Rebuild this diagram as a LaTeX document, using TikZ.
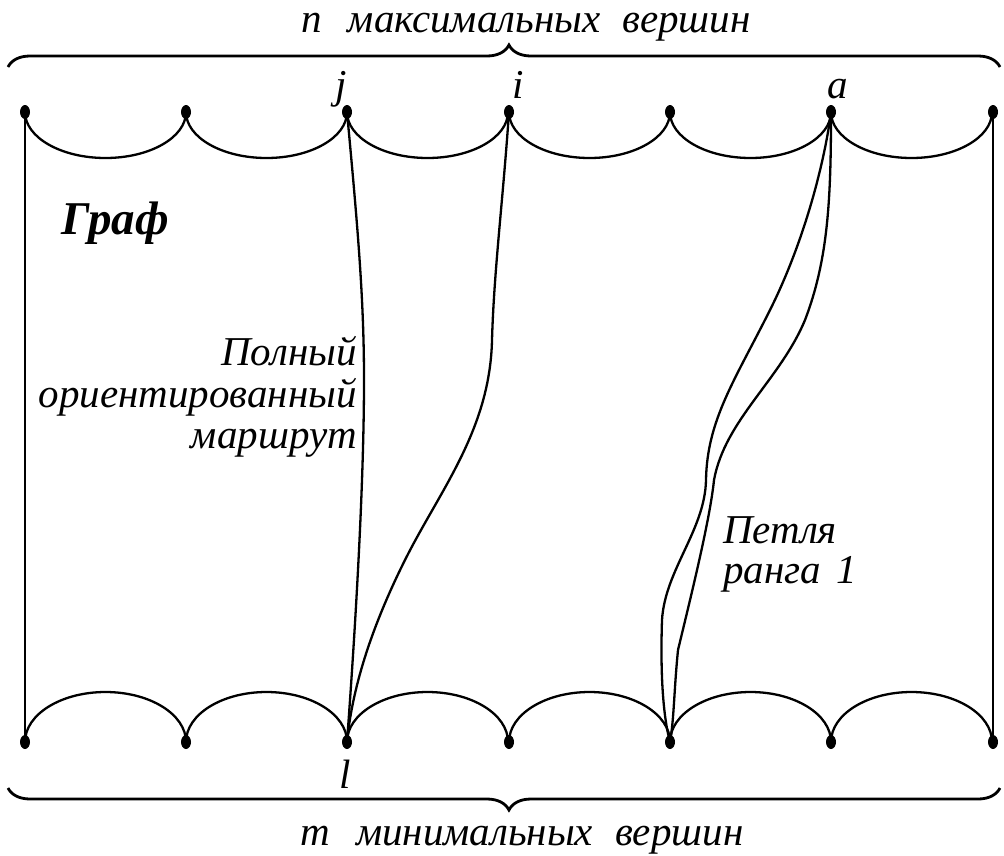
\documentclass[tikz,border=0pt]{standalone}
\usepackage{fontspec}
\setmainfont{Liberation Serif}
\usetikzlibrary{decorations.pathreplacing,shapes.geometric}
\begin{document}
\begin{tikzpicture}[x=1pt,y=-1pt,
  line width=2.3pt,
  dot/.style={ellipse,fill=black,draw=none,inner sep=0pt,minimum width=10pt,minimum height=14pt},
  lbl/.style={font=\fontsize{41}{42}\selectfont\itshape,inner sep=0pt,anchor=base},
  big/.style={font=\fontsize{47}{50}\selectfont\bfseries\itshape,inner sep=0pt,anchor=base west},
  bracestyle/.style={line width=2.8pt,decorate,decoration={brace,amplitude=22pt,aspect=#1}},
]
\useasboundingbox (0,0) rectangle (1004,855);
% dots
\foreach \k/\x in {1/25,2/186,3/347,4/509,5/670,6/831,7/993}{
  \node[dot] (t\k) at (\x,112) {};
  \node[dot] (b\k) at (\x,742) {};
}
% arcs
\foreach \k in {1,...,6}{
  \draw (t\k.center) arc[start angle=180,end angle=0,x radius=80.5,y radius=46];
  \draw (b\k.center) arc[start angle=180,end angle=360,x radius=80.5,y radius=50];
}
% sides
\draw (t1.center) -- (b1.center);
\draw (t7.center) -- (b7.center);
% j -> l
\draw (t3.center) .. controls (358,230) and (364,300) .. (364,380)
                 .. controls (364,480) and (356,620) .. (b3.center);
% i -> l
\draw (t4.center) .. controls (503,200) and (494,270) .. (492,340)
                 .. controls (490,430) and (440,490) .. (405,560)
                 .. controls (370,630) and (352,690) .. (b3.center);
% loop a -> b5
\draw (t6.center) .. controls (825,160) and (805,240) .. (770,310)
                 .. controls (735,380) and (707,420) .. (706,480)
                 .. controls (705,530) and (665,570) .. (662,620)
                 .. controls (660,680) and (664,720) .. (b5.center);
\draw (t6.center) .. controls (831,200) and (828,260) .. (805,320)
                 .. controls (780,380) and (725,420) .. (714,480)
                 .. controls (710,520) and (690,600) .. (678,650)
                 .. controls (674,690) and (674,720) .. (b5.center);
% braces
\coordinate (tbl) at (8,67);
\coordinate (tbr) at (1000,67);
\coordinate (bbl) at (8,788);
\coordinate (bbr) at (1000,788);
\draw[bracestyle=0.505] (tbl) -- (tbr);
\draw[bracestyle=0.495] (bbr) -- (bbl);
% texts
\node[lbl] (ttop) at (526,32) {n\hspace{26pt}максимальных\hspace{22pt}вершин};
\node[lbl] (tbot) at (522,845) {m\hspace{26pt}минимальных\hspace{22pt}вершин};
\node[lbl] (lj) at (341,98) {j};
\node[lbl] (li) at (518,98) {i};
\node[lbl] (la) at (838,98) {a};
\node[lbl] (ll) at (345,788) {l};
\node[big] (graf) at (60,234) {Граф};
\node[lbl,anchor=base east] (p1) at (358,365) {Полный};
\node[lbl,anchor=base east] (p2) at (358,407) {ориентированный};
\node[lbl,anchor=base east] (p3) at (358,448) {маршрут};
\node[lbl,anchor=base west] (q1) at (722,543) {Петля};
\node[lbl,anchor=base west] (q2) at (722,583) {ранга\hspace{16pt}1};
\end{tikzpicture}
\end{document}
